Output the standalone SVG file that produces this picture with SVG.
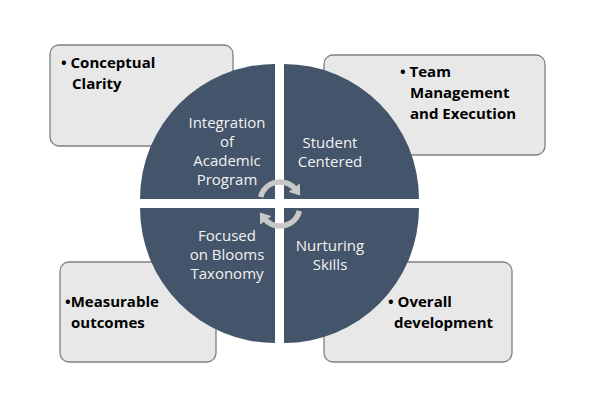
<svg xmlns="http://www.w3.org/2000/svg" width="594" height="417" viewBox="0 0 594 417">
<style>
.box{fill:#e8e8e8;stroke:#7f7f7f;stroke-width:1.3}
.bt{font-family:"Open Sans","Liberation Sans",sans-serif;font-weight:bold;font-size:15px;fill:#000}
.q{fill:#44546a}
.qt{font-family:"Open Sans","Liberation Sans",sans-serif;font-size:15px;fill:#f2f2f2;text-anchor:middle}
.arc{fill:none;stroke:#c8c8c8;stroke-width:5.5}
</style>
<defs>
<marker id="ah" markerUnits="userSpaceOnUse" markerWidth="12" markerHeight="14" refX="3" refY="7" orient="auto">
<path d="M0,0 L10,7 L0,14 z" fill="#c8c8c8"/>
</marker>
</defs>
<rect width="594" height="417" fill="#fff"/>
<g id="box-conceptual">
<rect class="box" x="50" y="45" width="183" height="101" rx="9"/>
<text class="bt"><tspan x="61" y="68">• Conceptual</tspan><tspan x="72" y="89">Clarity</tspan></text>
</g>
<g id="box-team">
<rect class="box" x="324" y="55" width="221" height="100" rx="9"/>
<text class="bt"><tspan x="400" y="77">• Team</tspan><tspan x="410" y="98">Management</tspan><tspan x="410" y="119">and Execution</tspan></text>
</g>
<g id="box-measurable">
<rect class="box" x="60" y="262" width="156" height="100" rx="9"/>
<text class="bt"><tspan x="65" y="307">•Measurable</tspan><tspan x="71" y="328">outcomes</tspan></text>
</g>
<g id="box-overall">
<rect class="box" x="324" y="262" width="188" height="100" rx="9"/>
<text class="bt"><tspan x="388" y="307">• Overall</tspan><tspan x="394" y="328">development</tspan></text>
</g>
<g id="q-integration">
<path class="q" d="M275,199 L140,199 A135,135 0 0 1 275,64 Z"/>
<text class="qt"><tspan x="227" y="128">Integration</tspan><tspan x="227" y="147">of</tspan><tspan x="227" y="166">Academic</tspan><tspan x="227" y="185">Program</tspan></text>
</g>
<g id="q-student">
<path class="q" d="M284,199 L284,64 A135,135 0 0 1 419,199 Z"/>
<text class="qt"><tspan x="330" y="148">Student</tspan><tspan x="330" y="167">Centered</tspan></text>
</g>
<g id="q-focused">
<path class="q" d="M275,208 L275,343 A135,135 0 0 1 140,208 Z"/>
<text class="qt"><tspan x="227" y="241">Focused</tspan><tspan x="227" y="260">on Blooms</tspan><tspan x="227" y="279">Taxonomy</tspan></text>
</g>
<g id="q-nurturing">
<path class="q" d="M284,208 L419,208 A135,135 0 0 1 284,343 Z"/>
<text class="qt"><tspan x="330" y="251">Nurturing</tspan><tspan x="330" y="270">Skills</tspan></text>
</g>
<g id="connectors">
<path class="arc" d="M260.6,197 A20,20 0 0 1 296,190" marker-end="url(#ah)"/>
<path class="arc" d="M299.4,211 A20,20 0 0 1 264,218" marker-end="url(#ah)"/>
</g>
</svg>
